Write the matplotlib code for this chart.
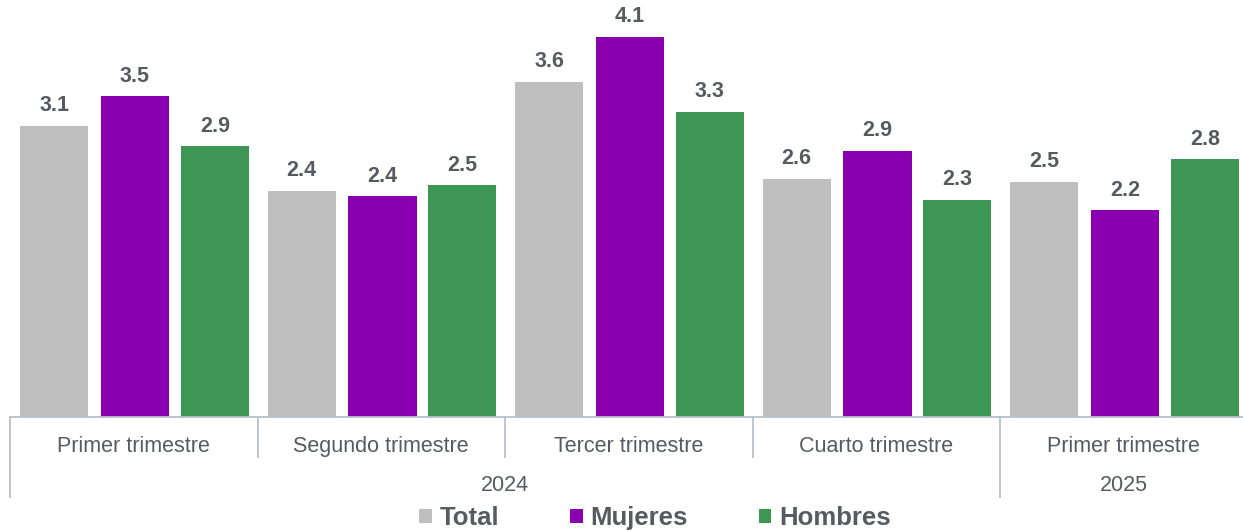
import matplotlib
matplotlib.use("Agg")
import matplotlib.pyplot as plt
import matplotlib.transforms as mtransforms
import numpy as np

categories = ["Primer trimestre", "Segundo trimestre", "Tercer trimestre", "Cuarto trimestre", "Primer trimestre"]
years = ["2024", "2025"]
year_spans = [(0, 4), (4, 5)]
series_names = ["Total", "Mujeres", "Hombres"]
total = [3.14, 2.44, 3.62, 2.57, 2.54]
mujeres = [3.46, 2.38, 4.10, 2.87, 2.23]
hombres = [2.92, 2.50, 3.29, 2.34, 2.78]
colors = ["#BFBFBF", "#8A00B0", "#3E9654"]

plt.rcParams['font.family'] = ['Liberation Sans', 'DejaVu Sans']
W, H = 1243, 531
fig = plt.figure(figsize=(W / 100, H / 100), dpi=100)
left_px, base_px = 10, 417
grp = 247.5
ax = fig.add_axes([left_px / W, (H - base_px) / H, (W - left_px) / W, base_px / H])
ax.set_xlim(0, (W - left_px) / grp)
ax.set_ylim(0, 4.5)

offsets = [0.178, 0.505, 0.828]
width = 0.275
x = np.arange(len(categories))
txtcol = "#575B60"
bars = []
for vals, off, c, name in zip([total, mujeres, hombres], offsets, colors, series_names):
    b = ax.bar(x + off, vals, width=width, color=c, label=name)
    bars.append(b)
    for xi, v in zip(x + off, vals):
        ax.annotate(f"{v:.1f}", (xi, v), xytext=(0, 7), textcoords="offset points",
                    ha="center", va="bottom", fontsize=15.5, fontweight="bold", color=txtcol)

for s in ["top", "right", "left"]:
    ax.spines[s].set_visible(False)
ax.spines["bottom"].set_color("#B8C0C8")
ax.spines["bottom"].set_linewidth(1.3)
ax.set_xticks([])
ax.set_yticks([])

trans = mtransforms.blended_transform_factory(ax.transData, ax.transAxes)
pxy = lambda p: -p / base_px  # pixels below baseline -> axes fraction
linecol = "#B8C0C8"
for i in range(len(categories) + 1):
    long = i in (0, 4)
    ax.plot([i, i], [0, pxy(80 if long else 40)], transform=trans, clip_on=False,
            color=linecol, lw=1.3)
for i, cat in enumerate(categories):
    ax.text(i + 0.5, pxy(35), cat, transform=trans, ha="center", va="baseline",
            fontsize=15.5, color=txtcol)
for yr, (a, b) in zip(years, year_spans):
    ax.text((a + b) / 2, pxy(74), yr, transform=trans, ha="center", va="baseline",
            fontsize=15.5, color=txtcol)

leg = fig.legend(handles=bars, labels=series_names, loc="center", bbox_to_anchor=(655 / W, 1 - 518 / H),
                 ncol=3, frameon=False, handlelength=0.5, handleheight=0.5, handletextpad=0.3,
                 columnspacing=2.75, borderpad=0, prop={"size": 18.5, "weight": "bold"})
for t in leg.get_texts():
    t.set_color(txtcol)

fig.savefig("out.png", dpi=100)
